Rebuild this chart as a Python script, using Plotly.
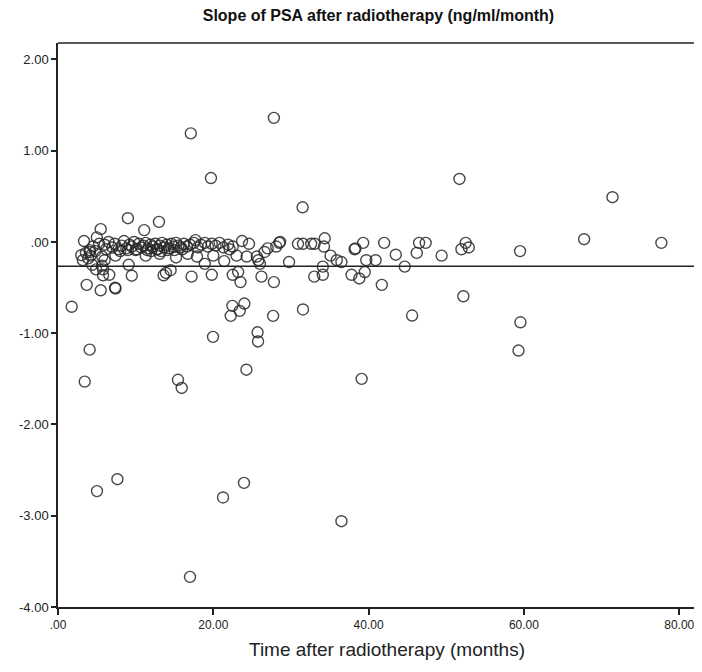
import plotly.graph_objects as go

# Time after radiotherapy (months) and PSA slope (ng/ml/month)
time_outer = [17.1, 27.8, 19.7, 51.7, 31.5, 71.4, 67.75, 9.0, 13.0, 11.1, 5.5, 5.0, 3.35]
slope_outer = [1.19, 1.36, 0.70, 0.69, 0.38, 0.49, 0.03, 0.26, 0.22, 0.13, 0.14, 0.05, 0.01]

time_right = [17.7, 23.7, 24.6, 28.5, 28.6, 30.9, 31.55, 32.6, 33.05, 34.35, 34.25, 35.1,
              36.5, 38.2, 38.3, 39.3, 39.7, 40.9, 39.5, 37.8, 38.8, 42.0, 43.5, 44.65,
              46.2, 46.5, 47.35, 49.4, 51.95, 52.5, 52.9, 59.5, 77.7]
slope_right = [0.02, 0.01, -0.02, -0.01, 0.0, -0.02, -0.02, -0.02, -0.02, 0.04, -0.05, -0.15,
               -0.22, -0.08, -0.07, -0.01, -0.2, -0.2, -0.33, -0.36, -0.40, -0.01, -0.14, -0.27,
               -0.12, -0.01, -0.01, -0.15, -0.08, -0.01, -0.06, -0.1, -0.01]

time_mid = [3.2, 4.08, 5.7, 7.4, 9.1, 11.3, 13.1, 15.2, 16.7, 17.9, 20.0, 21.4, 23.0, 24.3,
            25.8, 18.9, 22.1, 25.6, 26.0, 26.6, 27.0, 28.1, 29.75, 5.67, 4.9, 5.8, 5.8, 6.6,
            9.5, 13.9, 13.6, 14.5, 17.2, 19.8, 22.5, 23.2, 26.2, 23.5, 27.8, 33.0, 34.1,
            34.1, 35.9, 3.6, 4.2, 4.5, 3.9, 4.8, 5.3, 6.2, 6.0, 4.4, 3.0, 4.1]
slope_mid = [-0.2, -0.09, -0.16, -0.15, -0.25, -0.15, -0.13, -0.17, -0.13, -0.16, -0.15, -0.21,
             -0.15, -0.16, -0.2, -0.24, -0.08, -0.16, -0.24, -0.11, -0.07, -0.05, -0.22, -0.26,
             -0.3, -0.3, -0.365, -0.36, -0.37, -0.34, -0.365, -0.31, -0.38, -0.36, -0.36, -0.33,
             -0.38, -0.44, -0.44, -0.38, -0.36, -0.27, -0.2, -0.12, -0.15, -0.05, -0.18, -0.1,
             -0.02, -0.08, -0.2, -0.25, -0.145, -0.11]

time_cluster = [6.0, 6.5, 7.0, 7.3, 7.8, 8.2, 8.5, 8.8, 9.2, 9.5, 9.8, 10.1, 10.4, 10.7,
                11.0, 11.3, 11.6, 11.9, 12.2, 12.5, 12.8, 13.1, 13.4, 13.7, 14.0, 14.3,
                14.6, 14.9, 15.2, 15.5, 15.8, 16.2, 16.6, 17.0, 17.5, 18.0, 18.4, 18.9,
                19.3, 19.8, 20.3, 20.8, 21.3, 21.9, 22.5, 10.0, 11.5, 12.0, 12.7, 13.3,
                14.1, 8.0, 9.0, 15.0, 16.0]
slope_cluster = [-0.03, 0.0, -0.06, -0.02, -0.08, -0.04, 0.01, -0.07, -0.03, -0.05, 0.0, -0.08,
                 -0.02, -0.06, -0.04, -0.01, -0.07, -0.03, -0.05, -0.02, -0.08, -0.04, -0.01,
                 -0.06, -0.03, -0.07, -0.02, -0.05, -0.01, -0.04, -0.06, -0.02, -0.05, -0.03,
                 -0.01, -0.06, -0.03, -0.01, -0.05, -0.02, -0.04, -0.01, -0.06, -0.03, -0.05,
                 -0.09, -0.09, -0.1, -0.08, -0.1, -0.09, -0.1, -0.09, -0.09, -0.08]

time_low = [3.7, 5.5, 7.35, 7.4, 1.76, 4.08, 3.44, 15.45, 15.93, 19.96, 22.46, 24.0, 23.4,
            22.24, 25.7, 25.76, 24.26, 27.7, 31.55, 41.7, 52.2, 45.6, 59.55, 59.3, 39.1,
            5.02, 7.65, 17.0, 21.25, 23.95, 36.5]
slope_low = [-0.47, -0.53, -0.50, -0.51, -0.71, -1.18, -1.53, -1.51, -1.60, -1.04, -0.70, -0.675,
             -0.755, -0.81, -0.99, -1.09, -1.40, -0.81, -0.74, -0.47, -0.595, -0.806, -0.88,
             -1.19, -1.50, -2.73, -2.60, -3.67, -2.80, -2.64, -3.06]

ref_slope = -0.266

x_all = time_outer + time_right + time_mid + time_cluster + time_low
y_all = slope_outer + slope_right + slope_mid + slope_cluster + slope_low

x_ticks = [0, 20, 40, 60, 80]
y_ticks = [2, 1, 0, -1, -2, -3, -4]


def lbl(v):
    s = "%.2f" % v
    return s.replace("0.", ".", 1) if s.startswith("0.") else s


fig = go.Figure()
fig.add_trace(
    go.Scatter(
        x=x_all,
        y=y_all,
        mode="markers",
        marker=dict(symbol="circle-open", size=11, color="rgba(40,40,40,0.85)",
                    line=dict(width=1.4)),
        showlegend=False,
        hoverinfo="skip",
    )
)
# reference line at the mean slope, and the top frame line
fig.add_shape(type="line", xref="paper", yref="y", x0=0, x1=1, y0=ref_slope, y1=ref_slope,
              line=dict(color="#222222", width=1.5))
fig.add_shape(type="line", xref="paper", yref="paper", x0=0, x1=1, y0=1, y1=1,
              line=dict(color="#222222", width=1.5))

# page body has an 8px margin; keep the figure inside the window so no scrollbars appear
fig.update_layout(
    width=686,
    height=656,
    margin=dict(l=50, r=0, t=35, b=57),
    paper_bgcolor="white",
    plot_bgcolor="white",
    font=dict(family="Liberation Sans, Arial, sans-serif", color="#222222"),
    title=dict(
        text="<b>Slope of PSA after radiotherapy (ng/ml/month)</b>",
        x=0.54,
        xanchor="center",
        y=1 - 7 / 656,
        yanchor="middle",
        yref="container",
        font=dict(size=16, color="#111111"),
    ),
)
fig.add_annotation(
    text="Time after radiotherapy (months)",
    xref="paper",
    yref="paper",
    x=0.517,
    y=-0.076,
    xanchor="center",
    yanchor="middle",
    showarrow=False,
    font=dict(size=19, color="#222222"),
)
fig.update_xaxes(
    range=[0, 81.9],
    tickvals=x_ticks,
    ticktext=[lbl(v) for v in x_ticks],
    ticks="outside",
    ticklen=6,
    tickwidth=1.5,
    tickcolor="#222222",
    tickfont=dict(size=12),
    ticklabeloverflow="allow",
    showgrid=False,
    zeroline=False,
    showline=True,
    linecolor="#222222",
    linewidth=1.5,
    automargin=False,
)
fig.update_yaxes(
    range=[-4, 2.18],
    tickvals=y_ticks,
    ticktext=[lbl(v) for v in y_ticks],
    ticks="outside",
    ticklen=5,
    tickwidth=1.5,
    tickcolor="#222222",
    tickfont=dict(size=13),
    showgrid=False,
    zeroline=False,
    showline=True,
    linecolor="#222222",
    linewidth=1.5,
    automargin=False,
)

fig.write_html("out.html")
